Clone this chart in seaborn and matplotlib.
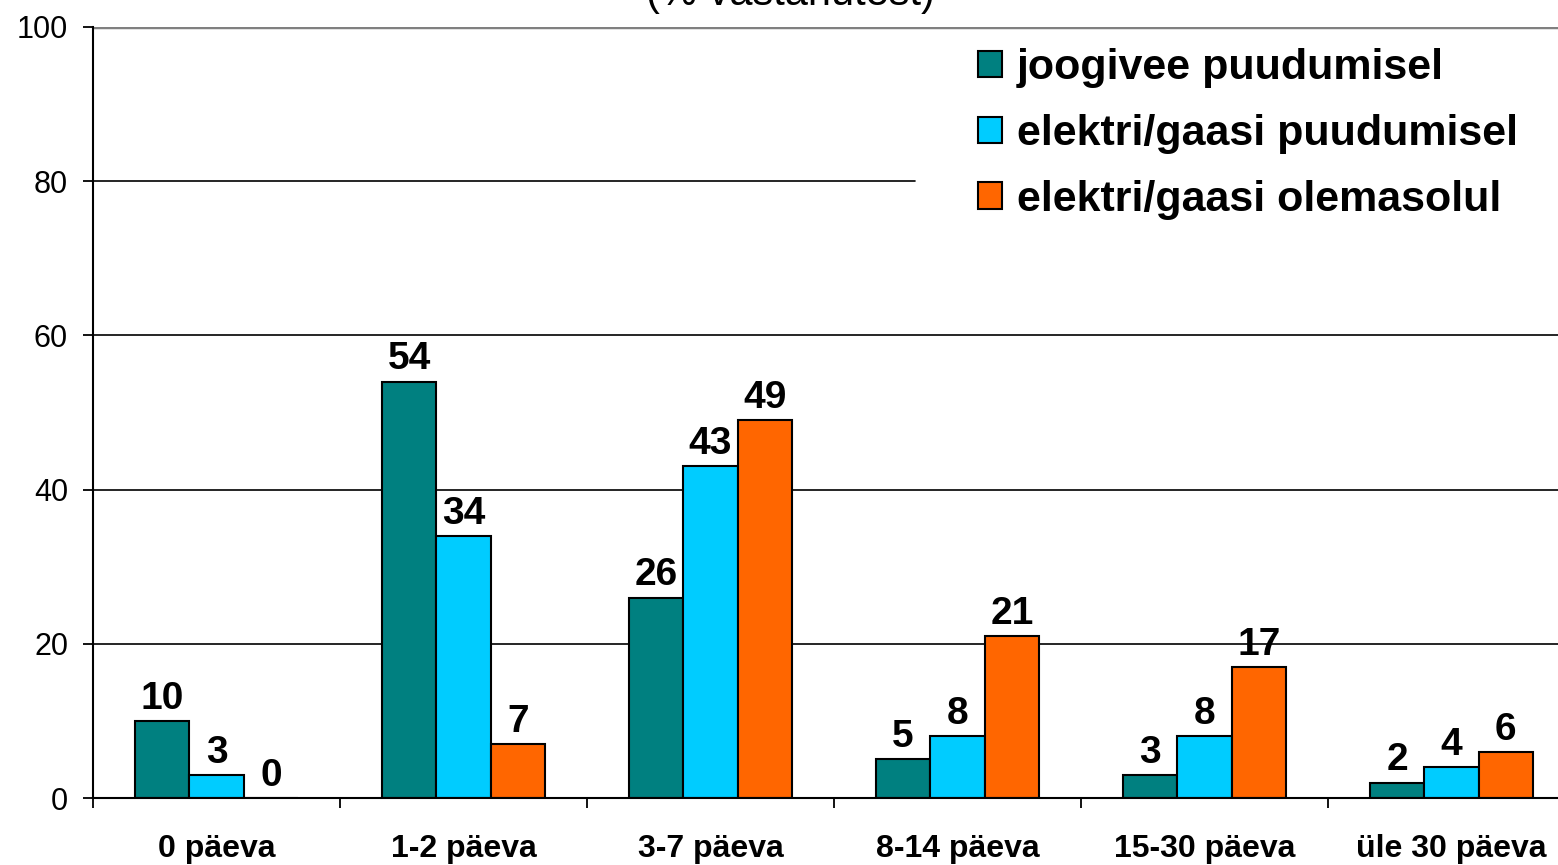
import numpy as np
import pandas as pd
import matplotlib.pyplot as plt
import seaborn as sns
from matplotlib.patches import Patch
from matplotlib.ticker import FixedLocator

# ── Data ───────────────────────────────────────────────
categories = ['0 päeva', '1-2 päeva', '3-7 päeva', '8-14 päeva', '15-30 päeva', 'üle 30 päeva']
series = ['joogivee puudumisel', 'elektri/gaasi puudumisel', 'elektri/gaasi olemasolul']
joogivee = [10, 54, 26, 5, 3, 2]
elekter_puudub = [3, 34, 43, 8, 8, 4]
elekter_olemas = [0, 7, 49, 21, 17, 6]
colors = ['#008080', '#00CCFF', '#FF6600']

df = pd.DataFrame({
    'kategooria': categories * 3,
    'seeria': np.repeat(series, len(categories)),
    'vaartus': joogivee + elekter_puudub + elekter_olemas,
})

sns.set_theme(style='white')
plt.rcParams['font.family'] = ['Liberation Sans', 'DejaVu Sans']
plt.rcParams['text.color'] = 'black'

fig = plt.figure(figsize=(15.58, 8.65), dpi=100)
ax = fig.add_axes([93 / 1558, 1 - 798 / 865, 1482 / 1558, 771 / 865])

sns.barplot(data=df, x='kategooria', y='vaartus', hue='seeria',
            order=categories, hue_order=series, palette=colors, saturation=1,
            width=0.66, gap=0, edgecolor='black', linewidth=1.5,
            legend=False, ax=ax, zorder=3)

# value labels
for cont in ax.containers:
    ax.bar_label(cont, fmt='%d', padding=3, fontsize=28, fontweight='bold',
                 color='black', zorder=4)

ax.set_ylim(0, 100)
ax.set_xlim(-0.5, len(categories) - 0.5)
ax.set_yticks(range(0, 101, 20))
ax.tick_params(axis='y', labelsize=22, length=7, width=1.3, direction='out',
               left=True, pad=11, colors='black')
ax.tick_params(axis='x', which='major', length=0, labelsize=23, pad=26,
               colors='black')
for lbl in ax.get_xticklabels():
    lbl.set_fontweight('bold')
ax.xaxis.set_minor_locator(FixedLocator(np.arange(-0.5, len(categories), 1)))
ax.tick_params(axis='x', which='minor', length=7, width=1.3, direction='out',
               bottom=True, color='black')

ax.set_xlabel('')
ax.set_ylabel('')
for y in [20, 40, 60]:
    ax.axhline(y, color='black', linewidth=1.2, zorder=1)
ax.axhline(80, xmax=(915 - 93) / 1482, color='black', linewidth=1.2, zorder=1)
ax.axhline(100, color='#808080', linewidth=2.5, zorder=1)

for s in ['top', 'right']:
    ax.spines[s].set_visible(False)
for s in ['left', 'bottom']:
    ax.spines[s].set_color('black')
    ax.spines[s].set_linewidth(1.5)
    ax.spines[s].set_zorder(5)

handles = [Patch(facecolor=c, edgecolor='black', linewidth=1.5) for c in colors]
leg = fig.legend(handles, series, loc='upper left',
                 bbox_to_anchor=(978 / 1558, 1 - 48 / 865),
                 prop={'weight': 'bold', 'size': 31},
                 handlelength=0.56, handleheight=0.56, handletextpad=0.34,
                 labelspacing=0.6, borderpad=0, borderaxespad=0,
                 frameon=False)

fig.text(790 / 1558, 1 - 14 / 865, '(% vastanutest)', ha='center', va='bottom',
         fontsize=30, color='black')

fig.savefig('out.png', dpi=100)
